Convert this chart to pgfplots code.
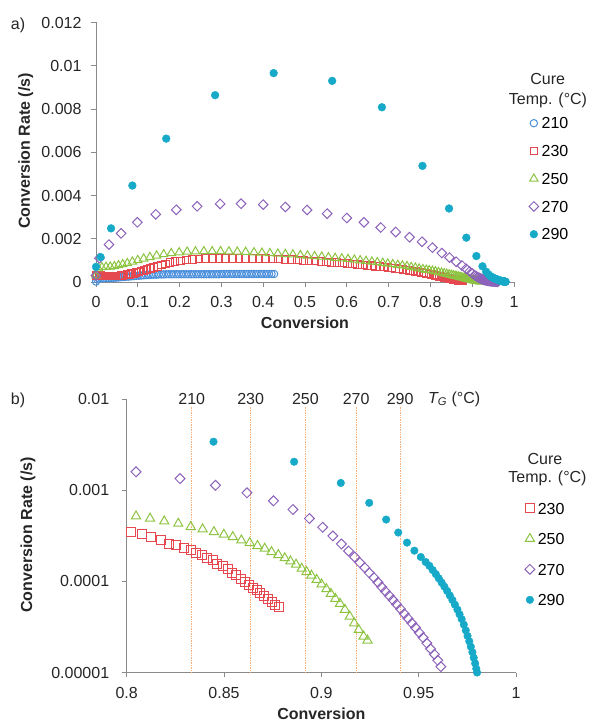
\documentclass[border=0pt]{standalone}
\usepackage{pgfplots}
\pgfplotsset{compat=1.18}
\usepackage{pgfplotstable}
\usepackage{fontspec}
\setmainfont{Liberation Sans}
\definecolor{c210}{HTML}{4A8FDB}
\definecolor{c230}{HTML}{E5484E}
\definecolor{c250}{HTML}{8CC340}
\definecolor{c270}{HTML}{8C62BA}
\definecolor{c290}{HTML}{16A9C8}
\definecolor{tg}{HTML}{F8B078}
\definecolor{axgray}{HTML}{8A8A8A}

\pgfplotstableread{
x y
0.000 0.00002
0.003 0.00012
0.007 0.00016
0.012 0.00017
0.018 0.00017
0.024 0.00018
0.030 0.00018
0.036 0.00019
0.042 0.00019
0.048 0.00020
0.054 0.00021
0.060 0.00022
0.066 0.00023
0.072 0.00024
0.078 0.00025
0.084 0.00026
0.090 0.00027
0.096 0.00028
0.102 0.00029
0.108 0.00030
0.114 0.00031
0.120 0.00032
0.126 0.00033
0.132 0.00033
0.138 0.00034
0.144 0.00034
0.150 0.00035
0.156 0.00035
0.162 0.00035
0.168 0.00036
0.174 0.00036
0.180 0.00036
0.186 0.00036
0.192 0.00036
0.198 0.00036
0.204 0.00036
0.210 0.00036
0.216 0.00036
0.222 0.00036
0.228 0.00036
0.234 0.00036
0.240 0.00036
0.246 0.00036
0.252 0.00036
0.258 0.00036
0.264 0.00036
0.270 0.00036
0.276 0.00036
0.282 0.00036
0.288 0.00036
0.294 0.00036
0.300 0.00037
0.306 0.00037
0.312 0.00037
0.318 0.00037
0.324 0.00037
0.330 0.00037
0.336 0.00037
0.342 0.00037
0.348 0.00037
0.354 0.00037
0.360 0.00037
0.366 0.00037
0.372 0.00037
0.378 0.00037
0.384 0.00037
0.390 0.00037
0.396 0.00037
0.402 0.00037
0.408 0.00037
0.414 0.00037
0.420 0.00037
0.426 0.00037
}\tA

\pgfplotstableread{
x y
0.000 0.00030
0.004 0.00033
0.008 0.00031
0.012 0.00029
0.016 0.00028
0.020 0.00028
0.024 0.00027
0.028 0.00027
0.032 0.00027
0.036 0.00027
0.040 0.00027
0.044 0.00027
0.048 0.00027
0.052 0.00028
0.056 0.00028
0.060 0.00029
0.065 0.00030
0.070 0.00032
0.075 0.00034
0.080 0.00036
0.085 0.00038
0.090 0.00040
0.096 0.00043
0.102 0.00046
0.108 0.00050
0.115 0.00054
0.122 0.00058
0.130 0.00063
0.138 0.00068
0.147 0.00073
0.156 0.00078
0.166 0.00084
0.177 0.00089
0.189 0.00094
0.202 0.00098
0.216 0.00101
0.231 0.00104
0.246 0.00106
0.262 0.00108
0.278 0.00109
0.294 0.00110
0.310 0.00110
0.326 0.00110
0.342 0.00110
0.358 0.00110
0.374 0.00109
0.390 0.00109
0.406 0.00108
0.422 0.00107
0.437 0.00106
0.452 0.00105
0.467 0.00103
0.482 0.00102
0.496 0.00100
0.510 0.00098
0.524 0.00097
0.538 0.00095
0.551 0.00093
0.564 0.00091
0.577 0.00089
0.590 0.00087
0.602 0.00085
0.614 0.00083
0.626 0.00081
0.637 0.00079
0.648 0.00077
0.659 0.00075
0.669 0.00073
0.679 0.00071
0.689 0.00069
0.699 0.00067
0.708 0.00065
0.717 0.00063
0.726 0.00061
0.734 0.00059
0.742 0.00056
0.750 0.00054
0.758 0.00051
0.765 0.00048
0.772 0.00046
0.779 0.00043
0.785 0.00041
0.791 0.00039
0.797 0.00037
0.8023 0.000348
0.8077 0.000328
0.8126 0.000307
0.8174 0.000282
0.8216 0.000260
0.8255 0.000249
0.8294 0.000232
0.8329 0.000219
0.8357 0.000207
0.8386 0.000193
0.8415 0.000181
0.8441 0.000170
0.8466 0.000156
0.8493 0.000147
0.8518 0.000135
0.8541 0.000125
0.8564 0.000116
0.8586 0.000107
0.8609 0.0000984
0.8628 0.0000904
0.8648 0.0000850
0.8667 0.0000796
0.8686 0.0000740
0.8705 0.0000684
0.8725 0.0000640
0.8744 0.0000593
0.8763 0.0000555
0.8783 0.0000522
}\tB

\pgfplotstableread{
x y
0.000 0.00030
0.006 0.00062
0.014 0.00068
0.024 0.00070
0.034 0.00071
0.044 0.00073
0.054 0.00077
0.064 0.00082
0.075 0.00087
0.087 0.00094
0.100 0.00101
0.114 0.00108
0.129 0.00115
0.145 0.00122
0.162 0.00128
0.180 0.00133
0.199 0.00137
0.218 0.00140
0.238 0.00141
0.258 0.00142
0.278 0.00142
0.298 0.00142
0.318 0.00141
0.338 0.00140
0.358 0.00139
0.378 0.00137
0.397 0.00135
0.416 0.00133
0.435 0.00131
0.453 0.00129
0.471 0.00127
0.489 0.00124
0.506 0.00122
0.523 0.00119
0.540 0.00117
0.556 0.00114
0.572 0.00111
0.588 0.00109
0.603 0.00106
0.618 0.00103
0.632 0.00100
0.646 0.00097
0.660 0.00094
0.673 0.00091
0.686 0.00088
0.698 0.00085
0.710 0.00082
0.722 0.00079
0.733 0.00076
0.744 0.00073
0.754 0.00069
0.764 0.00066
0.773 0.00062
0.782 0.00059
0.790 0.00056
0.797 0.00054
0.8048 0.000518
0.8120 0.000489
0.8193 0.000456
0.8265 0.000430
0.8329 0.000396
0.8390 0.000373
0.8448 0.000348
0.8499 0.000326
0.8545 0.000307
0.8589 0.000282
0.8632 0.000264
0.8672 0.000245
0.8709 0.000229
0.8744 0.000210
0.8779 0.000195
0.8812 0.000180
0.8841 0.000166
0.8870 0.000153
0.8899 0.000138
0.8924 0.000127
0.8949 0.000116
0.8976 0.000104
0.9001 0.0000927
0.9026 0.0000824
0.9049 0.0000732
0.9072 0.0000645
0.9096 0.0000569
0.9121 0.0000489
0.9146 0.0000412
0.9169 0.0000348
0.9192 0.0000294
0.9217 0.0000249
0.9237 0.0000225
}\tC

\pgfplotstableread{
x y
0.000 0.00030
0.008 0.00110
0.031 0.00173
0.060 0.00225
0.099 0.00276
0.143 0.00313
0.192 0.00334
0.242 0.00350
0.297 0.00361
0.347 0.00362
0.400 0.00358
0.453 0.00347
0.505 0.00333
0.553 0.00316
0.600 0.00296
0.641 0.00276
0.681 0.00252
0.717 0.00231
0.750 0.00207
0.780 0.00186
0.8048 0.00159
0.8274 0.00134
0.8456 0.00113
0.8618 0.000935
0.8754 0.000764
0.8854 0.000614
0.8939 0.000489
0.9007 0.000392
0.9059 0.000315
0.9103 0.000257
0.9140 0.000215
0.9171 0.000185
0.9198 0.000160
0.9223 0.000141
0.9246 0.000124
0.9270 0.000110
0.9291 0.0000975
0.9310 0.0000867
0.9329 0.0000777
0.9349 0.0000696
0.9368 0.0000624
0.9387 0.0000559
0.9407 0.0000497
0.9426 0.0000441
0.9445 0.0000392
0.9465 0.0000348
0.9484 0.0000310
0.9503 0.0000273
0.9523 0.0000241
0.9542 0.0000210
0.9561 0.0000182
0.9581 0.0000158
0.9598 0.0000136
0.9614 0.0000116
}\tD

\pgfplotstableread{
x y
0.000 0.00070
0.011 0.00115
0.036 0.00248
0.087 0.00446
0.168 0.00663
0.285 0.00864
0.425 0.00966
0.565 0.00930
0.684 0.00808
0.781 0.00537
0.8446 0.00340
0.8860 0.00205
0.9100 0.00120
0.9246 0.000726
0.9333 0.000476
0.9395 0.000343
0.9440 0.000266
0.9478 0.000217
0.9511 0.000185
0.9536 0.000163
0.9555 0.000148
0.9572 0.000133
0.9588 0.000120
0.9603 0.000108
0.9618 0.0000970
0.9632 0.0000875
0.9646 0.0000785
0.9660 0.0000700
0.9673 0.0000625
0.9686 0.0000555
0.9699 0.0000490
0.9710 0.0000435
0.9721 0.0000385
0.9732 0.0000335
0.9742 0.0000290
0.9751 0.0000252
0.9760 0.0000220
0.9768 0.0000192
0.9776 0.0000167
0.9783 0.0000145
0.9790 0.0000126
0.9796 0.0000110
0.9800 0.0000100
}\tE

\pgfplotsset{
  common/.style={
    scale only axis, clip=false,
    axis x line*=bottom, axis y line*=left,
    axis line style={-, draw=axgray, line width=0.8pt},
    every outer x axis line/.append style={-},
    every outer y axis line/.append style={-},
    tick align=outside, major tick length=5pt,
    every tick/.style={draw=axgray, line width=0.8pt},
    tick label style={font=\fontsize{16}{19}\selectfont, text=black!85},
    xticklabel style={yshift=-6pt},
    label style={font=\bfseries\fontsize{16}{19}\selectfont, text=black!85},
    scaled x ticks=false, scaled y ticks=false,
    legend style={draw=none, fill=none, inner sep=0pt, outer sep=0pt,
      anchor=north west, column sep=2pt,
      nodes={inner sep=1pt, text height=11.5pt, text depth=0pt, font=\fontsize{16}{19}\selectfont}},
    legend cell align=left,
    legend image code/.code={\draw[##1] plot coordinates {(0pt,0pt)};},
  },
  s210/.style={only marks, color=c210, mark=o, mark size=3.7pt, line width=1pt},
  s230/.style={only marks, color=c230, mark=square, mark size=#1, line width=1pt},
  s250/.style={only marks, color=c250, mark=triangle, mark size=#1, line width=1pt},
  s270/.style={only marks, color=c270, mark=square, mark options={rotate=45}, mark size=#1, line width=1pt},
  s290/.style={only marks, color=c290, mark=*, mark size=#1, mark options={draw=c290, fill=c290}},
}

\begin{document}
\begin{tikzpicture}[font=\fontsize{16}{19}\selectfont]
\useasboundingbox (0,0) rectangle (591pt,724pt);

% ---------- panel a ----------
\begin{axis}[common,
  at={(96pt,442pt)}, anchor=south west,
  width=418pt, height=259.5pt,
  xmin=0, xmax=1, ymin=0, ymax=0.012,
  xtick={0,0.1,0.2,0.3,0.4,0.5,0.6,0.7,0.8,0.9,1},
  xticklabels={0,0.1,0.2,0.3,0.4,0.5,0.6,0.7,0.8,0.9,1},
  ytick={0,0.002,0.004,0.006,0.008,0.01,0.012},
  yticklabels={0,0.002,0.004,0.006,0.008,0.01,0.012},
  yticklabel style={xshift=-6pt},
  xlabel={Conversion}, ylabel={Conversion Rate (/s)},
  xlabel style={at={(axis description cs:0.5,-0.158)}, anchor=center},
  ylabel style={at={(axis description cs:-0.168,0.505)}, anchor=center},
  legend style={at={(axis description cs:1.036,0.638)}, row sep=14.25pt},
]
\addplot[s210] table {\tA};
\addplot[s230=3.8pt] table {\tB};
\addplot[s250=4.8pt] table {\tC};
\addplot[s270=3.4pt] table {\tD};
\addplot[s290=3.9pt] table {\tE};
\legend{210,230,250,270,290}
\end{axis}

% ---------- panel b ----------
\begin{axis}[common,
  at={(126.7pt,51.5pt)}, anchor=south west,
  width=389.3pt, height=273.5pt,
  xmin=0.8, xmax=1, ymode=log, ymin=1e-5, ymax=1e-2,
  restrict x to domain=0.8:1,
  xtick={0.8,0.85,0.9,0.95,1},
  xticklabels={0.8,0.85,0.9,0.95,1},
  ytick={1e-5,1e-4,1e-3,1e-2},
  yticklabels={0.00001,0.0001,0.001,0.01},
  yticklabel style={xshift=-9pt},
  yminorticks=false,
  xlabel={Conversion}, ylabel={Conversion Rate (/s)},
  xlabel style={at={(axis description cs:0.5,-0.150)}, anchor=center},
  ylabel style={at={(axis description cs:-0.2535,0.503)}, anchor=center},
  legend style={at={(axis description cs:1.023,0.625)}, row sep=17pt},
]
\addplot[forget plot, color=tg, line width=0.7pt, densely dotted] coordinates {(0.8334,1e-5) (0.8334,1e-2)};
\addplot[forget plot, color=tg, line width=0.7pt, densely dotted] coordinates {(0.8637,1e-5) (0.8637,1e-2)};
\addplot[forget plot, color=tg, line width=0.7pt, densely dotted] coordinates {(0.8918,1e-5) (0.8918,1e-2)};
\addplot[forget plot, color=tg, line width=0.7pt, densely dotted] coordinates {(0.9179,1e-5) (0.9179,1e-2)};
\addplot[forget plot, color=tg, line width=0.7pt, densely dotted] coordinates {(0.9405,1e-5) (0.9405,1e-2)};
\addplot[s230=4.5pt] table {\tB};
\addplot[s250=5.3pt] table {\tC};
\addplot[s270=3.5pt] table {\tD};
\addplot[s290=3.8pt] table {\tE};
\legend{230,250,270,290}
\node[fill=white, inner sep=1pt, text=black!85] at (axis cs:0.8334,0.01) {210};
\node[fill=white, inner sep=1pt, text=black!85] at (axis cs:0.8637,0.01) {230};
\node[fill=white, inner sep=1pt, text=black!85] at (axis cs:0.8918,0.01) {250};
\node[fill=white, inner sep=1pt, text=black!85] at (axis cs:0.9179,0.01) {270};
\node[fill=white, inner sep=1pt, text=black!85] at (axis cs:0.9405,0.01) {290};
\node[anchor=west, inner sep=0pt, text=black!85] at (axis cs:0.9548,0.01) {\itshape T\textsubscript{G}\upshape\ (°C)};
\end{axis}

% ---------- panel letters and legend titles ----------
\node[text=black!85] at (18pt,699pt) {a)};
\node[text=black!85] at (18pt,324pt) {b)};
\node[text=black!85] at (547.7pt,644.7pt) {Cure};
\node[text=black!85] at (548pt,623.3pt) {Temp. (°C)};
\node[text=black!85] at (545pt,265pt) {Cure};
\node[text=black!85] at (547.5pt,246pt) {Temp. (°C)};
\end{tikzpicture}
\end{document}
